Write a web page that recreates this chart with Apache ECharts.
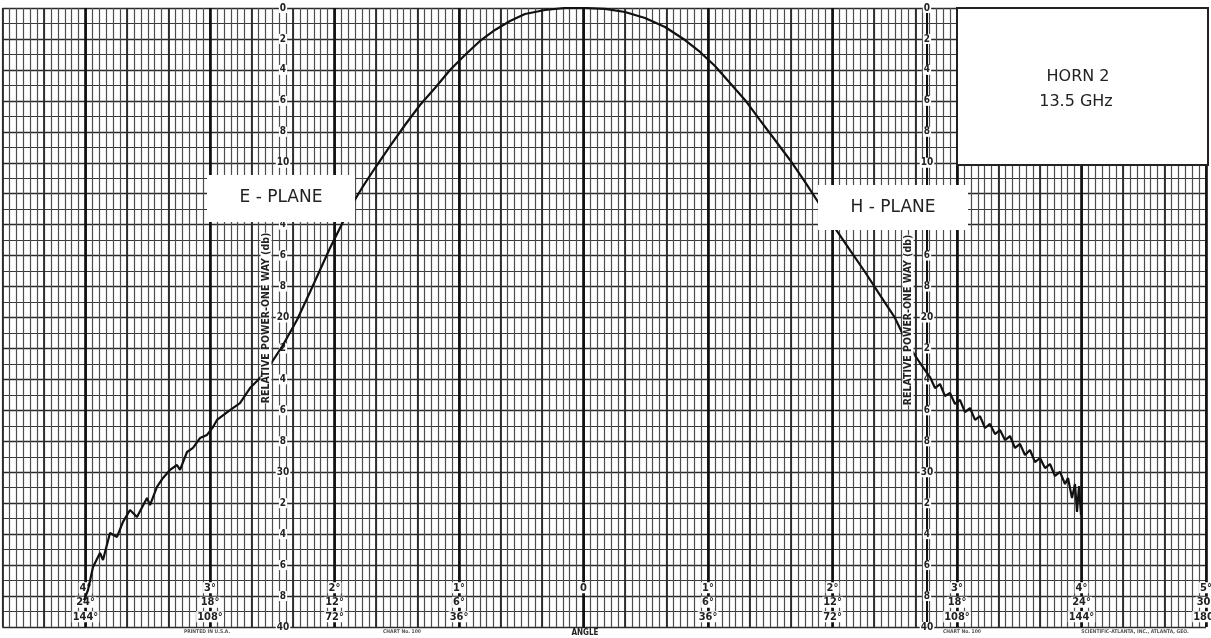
<!DOCTYPE html>
<html>
<head>
<meta charset="utf-8">
<script src="https://cdn.jsdelivr.net/npm/echarts@6/dist/echarts.min.js"></script>
<style>
html,body{margin:0;padding:0;background:#fff;overflow:hidden;}
#chart{width:1211px;height:638px;}
</style>
</head>
<body>
<div id="chart"></div>
<script>
// Angle in degrees on the 36°-per-division scale (0 = boresight); relative power in dB below peak
const angles = [
 -144.43,-143.28,-141.83,-139.81,-138.94,-136.92,-134.89,-133.16,-131.13,-129.11,-126.22,-125.35,-123.33,-121.59,-119.57,-117.54,-116.67,-114.65,-112.92,-110.89,-108.87,-107.13,-105.98,
 -102.22,-99.33,-96.43,-93.54,-90.65,-86.89,-82.85,-79.08,-76.19,-73.30,-70.41,-67.52,-64.05,-60.29,-55.95,-51.61,-47.28,-42.94,-38.60,-34.27,-29.93,-25.59,-21.25,-16.92,-11.13,-5.35,
 0.43,6.22,12.00,17.78,23.57,29.35,33.69,38.02,42.36,46.70,51.04,55.37,59.71,64.05,68.39,72.72,77.06,81.40,85.74,90.07,93.54,97.30,100.19,
 101.64,103.08,104.53,105.98,107.42,108.87,110.31,111.76,113.21,114.65,116.10,117.54,118.99,120.43,121.88,123.33,124.77,126.22,127.66,129.11,130.55,132.00,133.45,134.89,136.34,137.78,139.23,140.10,141.25,142.12,142.70,143.28,143.86];
const levels = [
 38.26,37.61,36.12,35.22,35.67,33.93,34.18,33.21,32.44,32.89,31.66,32.12,30.95,30.37,29.85,29.53,29.85,28.69,28.43,27.79,27.59,27.08,26.62,
 25.98,25.53,24.56,23.91,23.07,21.78,20.16,18.35,16.93,15.51,14.22,12.92,11.63,10.34,8.92,7.56,6.27,5.17,4.01,3.04,2.13,1.42,0.84,0.39,0.13,0.00,
 0.00,0.06,0.26,0.65,1.23,2.07,2.84,3.75,4.85,5.94,7.24,8.53,9.82,11.24,12.73,14.22,15.64,17.06,18.55,20.03,21.65,22.94,23.85,
 24.56,24.30,25.07,24.88,25.59,25.33,26.11,25.85,26.62,26.37,27.14,26.88,27.53,27.27,27.92,27.66,28.43,28.17,28.89,28.56,29.34,29.08,29.73,29.47,30.24,29.98,30.76,30.37,31.66,30.76,32.57,30.89,32.76];

const majorAngles = [-144,-108,-72,-36,0,36,72,108,144,180];
const dbTickValues = [0,2,4,6,8,10,12,14,16,18,20,22,24,26,28,30,32,34,36,38,40];

const curve = angles.map((a,i)=>[a, levels[i]]);

const chart = echarts.init(document.getElementById('chart'), null, {renderer:'canvas', width:1211, height:638});
const XMIN = -168, XMAX = 180;
const lblFont = 'DejaVu Sans Condensed';
function xAx(interval, color, width, extra){
  return Object.assign({type:'value', min:XMIN, max:XMAX, interval:interval, position:'bottom',
    axisLine:{show:false}, axisTick:{show:false}, axisLabel:{show:false},
    splitLine:{show:true, lineStyle:{color:color, width:width}}}, extra||{});
}
function yAx(interval, color, width, extra){
  return Object.assign({type:'value', min:0, max:40, interval:interval, inverse:true, position:'left',
    axisLine:{show:false}, axisTick:{show:false}, axisLabel:{show:false},
    splitLine:{show:true, lineStyle:{color:color, width:width}}}, extra||{});
}
const dbLabel = {
  show:true, margin:0, align:'center', fontSize:10, fontWeight:'bold', fontFamily:lblFont, color:'#222',
  backgroundColor:'#fff', padding:[0,1],
  formatter:function(v){ if (dbTickValues.indexOf(v)<0) return ''; return (v%10===0)? String(v) : String(v%10); }
};
const GRID_LEFT = 2.5;
const option = {
  backgroundColor:'#fff',
  animation:false,
  grid:{left:GRID_LEFT, right:5, top:8, bottom:11, containLabel:false, outerBoundsMode:'none'},
  xAxis:[
    xAx(2,'#4d4d4d',1.2),
    xAx(12,'#2a2a2a',1.8),
    xAx(12,'#111',2.6,{
      axisTick:{show:false, customValues:majorAngles},
      axisLabel:{show:true, inside:true, margin:3, customValues:majorAngles, hideOverlap:false,
        formatter:function(v){
          if (v===0) return '{a|0}\n{b| }\n{b| }';
          const n=Math.abs(v)/36;
          return '{a|'+n+'°}\n{a|'+(6*n)+'°}\n{a|'+(36*n)+'°}';
        },
        rich:{a:{fontSize:11, fontWeight:'bold', fontFamily:lblFont, color:'#222', backgroundColor:'#fff', lineHeight:14.5, padding:[0,1]},
              b:{fontSize:11, lineHeight:14.5}}
      }})
  ],
  yAxis:[
    yAx(1,'#3a3a3a',1.2),
    yAx(2,'#2a2a2a',1.4),
    yAx(2,'#111',0.01,{offset:-(283-GRID_LEFT), splitLine:{show:false}, axisLine:{show:true, lineStyle:{color:'#111', width:2}}, axisLabel:dbLabel}),
    yAx(2,'#111',0.01,{offset:-(927-GRID_LEFT), splitLine:{show:false}, axisLine:{show:true, lineStyle:{color:'#111', width:2}}, axisLabel:dbLabel})
  ],
  series:[{
    type:'line', xAxisIndex:0, yAxisIndex:0, data:curve, showSymbol:false, smooth:false,
    lineStyle:{color:'#111', width:2.2}, z:5
  }],
  graphic:[
    {type:'rect', shape:{x:207,y:175,width:148,height:47}, style:{fill:'#fff'}, z:100},
    {type:'text', x:281, y:198, style:{text:'E - PLANE', font:'17px "DejaVu Sans"', fill:'#222', textAlign:'center', textVerticalAlign:'middle'}, z:101},
    {type:'rect', shape:{x:818,y:185,width:150,height:45}, style:{fill:'#fff'}, z:100},
    {type:'text', x:893, y:208, style:{text:'H - PLANE', font:'17px "DejaVu Sans"', fill:'#222', textAlign:'center', textVerticalAlign:'middle'}, z:101},
    {type:'rect', shape:{x:957,y:8,width:251,height:157}, style:{fill:'#fff', stroke:'#222', lineWidth:2}, z:100},
    {type:'text', x:1078, y:77, style:{text:'HORN 2', font:'16px "DejaVu Sans"', fill:'#222', textAlign:'center', textVerticalAlign:'middle'}, z:101},
    {type:'text', x:1076, y:102, style:{text:'13.5 GHz', font:'16px "DejaVu Sans"', fill:'#222', textAlign:'center', textVerticalAlign:'middle'}, z:101},
    {type:'text', x:266, y:318, rotation:Math.PI/2, style:{text:'RELATIVE POWER-ONE WAY (db)', font:'bold 10.5px "DejaVu Sans Condensed"', fill:'#222', textAlign:'center', textVerticalAlign:'middle', backgroundColor:'#fff'}, z:101},
    {type:'text', x:908, y:320, rotation:Math.PI/2, style:{text:'RELATIVE POWER-ONE WAY (db)', font:'bold 10.5px "DejaVu Sans Condensed"', fill:'#222', textAlign:'center', textVerticalAlign:'middle', backgroundColor:'#fff'}, z:101},
    {type:'text', x:585, y:633, style:{text:'ANGLE', font:'bold 8px "DejaVu Sans Condensed"', fill:'#222', textAlign:'center', textVerticalAlign:'middle'}, z:101},
    {type:'text', x:207, y:632, style:{text:'PRINTED IN U.S.A.', font:'bold 5px "DejaVu Sans Condensed"', fill:'#555', textAlign:'center', textVerticalAlign:'middle'}, z:101},
    {type:'text', x:402, y:632, style:{text:'CHART No. 100', font:'bold 5px "DejaVu Sans Condensed"', fill:'#555', textAlign:'center', textVerticalAlign:'middle'}, z:101},
    {type:'text', x:962, y:632, style:{text:'CHART No. 100', font:'bold 5px "DejaVu Sans Condensed"', fill:'#555', textAlign:'center', textVerticalAlign:'middle'}, z:101},
    {type:'text', x:1135, y:632, style:{text:'SCIENTIFIC-ATLANTA, INC., ATLANTA, GEO.', font:'bold 5px "DejaVu Sans Condensed"', fill:'#555', textAlign:'center', textVerticalAlign:'middle'}, z:101}
  ]
};
chart.setOption(option);
</script>
</body>
</html>
